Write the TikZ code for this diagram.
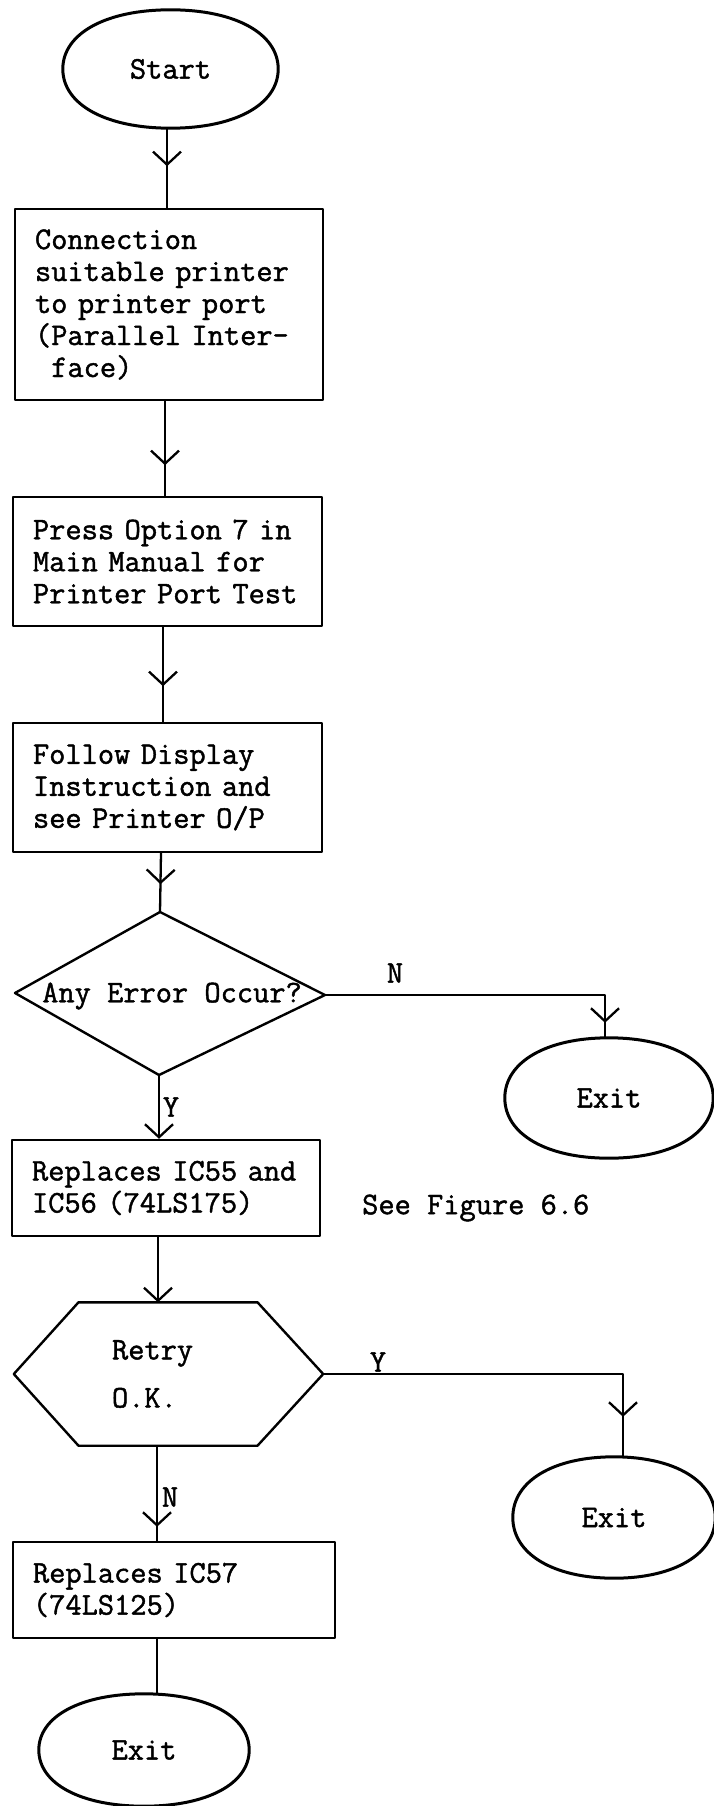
\documentclass[tikz,border=0pt]{standalone}
\usepackage{fontspec}
\setmonofont{lmmono12-regular.otf}[FakeBold=1.4]
\usetikzlibrary{arrows.meta,decorations.markings,calc}
\def\kk{0.6}
\newcommand\termpath[1]{%
  \draw[termline] (#1.east)
    .. controls ($(#1.east)!\kk!(#1.east |- #1.north)$) and ($(#1.north)!\kk!(#1.east |- #1.north)$) .. (#1.north)
    .. controls ($(#1.north)!\kk!(#1.west |- #1.north)$) and ($(#1.west)!\kk!(#1.west |- #1.north)$) .. (#1.west)
    .. controls ($(#1.west)!\kk!(#1.west |- #1.south)$) and ($(#1.south)!\kk!(#1.west |- #1.south)$) .. (#1.south)
    .. controls ($(#1.south)!\kk!(#1.east |- #1.south)$) and ($(#1.east)!\kk!(#1.east |- #1.south)$) .. cycle;}
\begin{document}
\begin{tikzpicture}[x=1pt,y=-1pt,
  font=\ttfamily\fontsize{31.5}{32}\selectfont,
  line join=round,
  shapeline/.style={draw=black,line width=2.4pt},
  termline/.style={draw=black,line width=3pt},
  procbox/.style={shapeline,rectangle,inner xsep=20pt,inner ysep=0pt,align=left,minimum height=#1},
  term/.style={rectangle,inner sep=0pt},
  conn/.style={draw=black,line width=2.3pt},
  endtip/.style={-{Straight Barb[length=13pt,width=28pt]}},
  midtip/.style={postaction={decorate},decoration={markings,mark=at position #1 with {\arrow{Straight Barb[length=13pt,width=28pt]}}}},
  lbl/.style={inner sep=0pt}
]
\fill[white] (0,0) rectangle (713,1806);
\useasboundingbox (0,0) rectangle (713,1806);

% terminals
\node[term,minimum width=215pt,minimum height=118pt] (start) at (170.5,69) {Start};
\node[term,minimum width=208pt,minimum height=120pt] (e1) at (609,1098) {Exit};
\node[term,minimum width=202pt,minimum height=121pt] (e2) at (614,1517.5) {Exit};
\node[term,minimum width=210pt,minimum height=112pt] (e3) at (144,1750) {Exit};
\termpath{start}
\termpath{e1}
\termpath{e2}
\termpath{e3}

% process boxes
\node[procbox=191pt,text width=268pt] (b1) at (169,304.5)
  {Connection\\suitable printer\\to printer port\\(Parallel Inter-\\\phantom{(}face)};
\node[procbox=129pt,text width=269pt] (b2) at (167.5,561.5)
  {\mbox{Press Option 7 in}\\Main Manual for\\\mbox{Printer Port Test}};
\node[procbox=129pt,text width=269pt] (b3) at (167.5,787.5)
  {Follow Display\\Instruction and\\see Printer O/P};
\node[procbox=96pt,text width=268pt] (b4) at (166,1188)
  {\mbox{Replaces IC55 and}\\\mbox{IC56 (74LS175)}};
\node[procbox=96pt,text width=282pt] (b5) at (174,1590)
  {Replaces IC57\\(74LS125)};

% decision diamond
\coordinate (dt) at (160,912);
\coordinate (dr) at (325,995);
\coordinate (db) at (159,1075);
\coordinate (dl) at (15,993);
\draw[shapeline] (dt) -- (dr) -- (db) -- (dl) -- cycle;
\node[lbl] (dia) at (172,996) {Any Error Occur?};

% hexagon
\node[inner xsep=98pt,inner ysep=0pt,text width=113pt,align=left,minimum height=143pt] (hex) at (168.5,1374)
  {Retry\\[16pt]O.K.};
\draw[shapeline] (hex.west) -- ([xshift=-90pt]hex.north) -- ([xshift=89pt]hex.north)
  -- (hex.east) -- ([xshift=89pt]hex.south) -- ([xshift=-90pt]hex.south) -- cycle;

% labels
\node[lbl] (lN1) at (395,973) {N};
\node[lbl] (lY1) at (171,1107) {Y};
\node[lbl] (lY2) at (378,1362) {Y};
\node[lbl] (lN2) at (170,1497) {N};
\node[lbl,anchor=west] (see) at (362,1208) {See Figure 6.6};

% connectors
\draw[conn,midtip=38pt] ([xshift=-3.5pt]start.south) -- ([xshift=-2pt]b1.north);
\draw[conn,midtip=64pt] ([xshift=-4pt]b1.south) -- ([xshift=-2.5pt]b2.north);
\draw[conn,midtip=59pt] ([xshift=-4.5pt]b2.south) -- ([xshift=-4.5pt]b3.north);
\draw[conn,midtip=31pt] ([xshift=-6.5pt]b3.south) -- (dt);
\draw[conn,endtip] (db) -- ([xshift=-7pt]b4.north);
\draw[conn,endtip] ([xshift=-8pt]b4.south) -- ([xshift=-10.5pt]hex.north);
\draw[conn,midtip=-15pt] (dr) -| ([xshift=-4pt]e1.north);
\draw[conn,midtip=-40pt] (hex.east) -| ([xshift=9pt]e2.north);
\draw[conn,midtip=-14pt] ([xshift=-11.5pt]hex.south) -- ([xshift=-17pt]b5.north);
\draw[conn] ([xshift=-17pt]b5.south) -- ([xshift=13pt]e3.north);
\end{tikzpicture}
\end{document}
